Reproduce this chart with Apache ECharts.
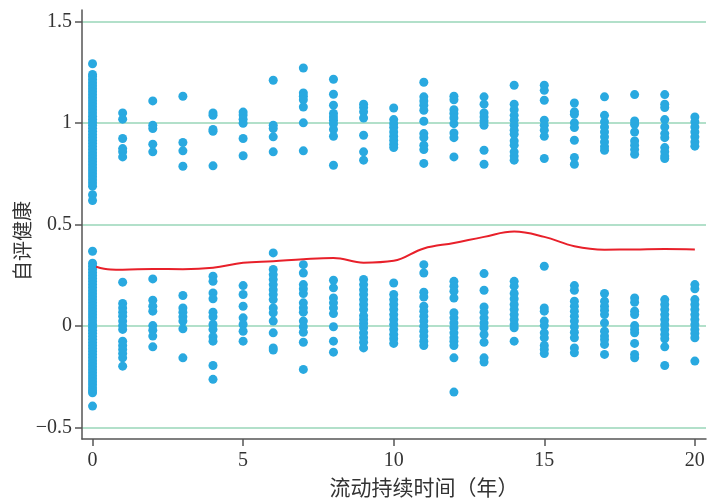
<!DOCTYPE html>
<html>
<head>
<meta charset="utf-8">
<script src="https://cdn.jsdelivr.net/npm/echarts@6/dist/echarts.min.js"></script>
<style>html,body{margin:0;padding:0;background:#fff}#c{width:708px;height:499px}</style>
</head>
<body>
<div id="c"></div>
<script>
const years = [0,1,2,3,4,5,6,7,8,9,10,11,12,13,14,15,16,17,18,19,20];
const upperValues = [
  [1.293,1.24,1.23,1.215,1.2,1.185,1.17,1.155,1.14,1.125,1.11,1.095,1.08,1.065,1.05,1.035,1.02,1.005,0.99,0.975,0.96,0.945,0.93,0.915,0.9,0.885,0.87,0.855,0.84,0.825,0.81,0.795,0.78,0.765,0.75,0.735,0.72,0.705,0.69,0.648,0.619],
  [1.051,1.02,0.925,0.875,0.859,0.834],
  [1.11,0.99,0.974,0.897,0.859],
  [1.133,0.905,0.864,0.788],
  [1.051,1.039,0.969,0.96,0.79],
  [1.055,1.04,1.02,1.0,0.925,0.84],
  [1.212,0.99,0.974,0.933,0.859],
  [1.272,1.149,1.133,1.116,1.08,1.002,0.864],
  [1.217,1.143,1.089,1.048,1.031,1.015,0.998,0.969,0.936,0.793],
  [1.094,1.077,1.056,1.026,0.941,0.859,0.818],
  [1.075,1.018,0.998,0.979,0.957,0.936,0.916,0.897,0.88],
  [1.202,1.13,1.11,1.089,1.064,1.01,0.949,0.929,0.892,0.87,0.802],
  [1.133,1.116,1.067,1.048,1.026,0.998,0.952,0.929,0.834],
  [1.13,1.094,1.051,1.031,1.011,0.99,0.867,0.798],
  [1.187,1.094,1.067,1.039,1.015,0.99,0.966,0.946,0.913,0.892,0.859,0.838,0.818],
  [1.187,1.162,1.113,1.015,0.99,0.966,0.936,0.826],
  [1.1,1.056,1.044,1.002,0.979,0.916,0.831,0.798],
  [1.13,1.039,1.007,0.982,0.957,0.933,0.908,0.884,0.867],
  [1.141,1.011,0.995,0.957,0.913,0.892,0.87,0.847],
  [1.141,1.094,1.077,1.018,0.982,0.949,0.929,0.88,0.859,0.838,0.826],
  [1.031,1.007,0.982,0.957,0.933,0.908,0.887]
];
const lowerValues = [
  [0.369,0.31,0.295,0.28,0.265,0.25,0.235,0.22,0.205,0.19,0.175,0.16,0.145,0.13,0.115,0.1,0.085,0.07,0.055,0.04,0.025,0.01,-0.005,-0.02,-0.035,-0.05,-0.065,-0.08,-0.095,-0.11,-0.125,-0.14,-0.155,-0.17,-0.185,-0.2,-0.215,-0.23,-0.245,-0.26,-0.275,-0.29,-0.305,-0.318,-0.328,-0.394],
  [0.217,0.112,0.09,0.069,0.049,0.025,0.003,-0.016,-0.074,-0.095,-0.115,-0.135,-0.156,-0.197],
  [0.233,0.128,0.098,0.074,0.003,-0.02,-0.049,-0.102],
  [0.151,0.09,0.069,0.046,0.025,-0.013,-0.156],
  [0.246,0.221,0.164,0.135,0.069,0.046,0.008,-0.016,-0.052,-0.074,-0.194,-0.262],
  [0.2,0.156,0.098,0.041,0.008,-0.025,-0.074],
  [0.361,0.279,0.254,0.23,0.205,0.18,0.156,0.131,0.09,0.066,0.025,-0.033,-0.107,-0.118],
  [0.303,0.262,0.205,0.184,0.161,0.115,0.09,0.069,0.025,-0.003,-0.03,-0.079,-0.213],
  [0.226,0.189,0.139,0.115,0.09,0.062,-0.003,-0.074,-0.128],
  [0.23,0.205,0.18,0.156,0.131,0.107,0.082,0.052,0.033,0.013,-0.008,-0.033,-0.057,-0.079,-0.107],
  [0.213,0.156,0.131,0.107,0.082,0.057,0.033,0.008,-0.016,-0.041,-0.062,-0.085],
  [0.303,0.262,0.167,0.144,0.098,0.074,0.049,0.025,0.0,-0.025,-0.049,-0.074,-0.095],
  [0.221,0.197,0.172,0.139,0.066,0.041,0.016,-0.008,-0.033,-0.057,-0.074,-0.095,-0.156,-0.325],
  [0.259,0.177,0.095,0.069,0.041,0.016,-0.008,-0.041,-0.079,-0.156,-0.177],
  [0.221,0.197,0.161,0.135,0.107,0.082,0.057,0.033,0.008,-0.008,-0.074],
  [0.295,0.09,0.074,0.025,0.003,-0.033,-0.057,-0.095,-0.115,-0.135],
  [0.2,0.177,0.123,0.098,0.074,0.049,0.025,-0.003,-0.03,-0.057,-0.107,-0.131],
  [0.161,0.123,0.098,0.079,0.057,0.016,-0.025,-0.049,-0.066,-0.09,-0.139],
  [0.139,0.118,0.074,0.057,0.003,-0.016,-0.033,-0.085,-0.139,-0.156],
  [0.131,0.107,0.082,0.057,0.033,0.008,-0.016,-0.041,-0.062,-0.102,-0.194],
  [0.205,0.184,0.131,0.107,0.082,0.057,0.033,0.008,-0.016,-0.036,-0.057,-0.172]
];
const trendX = [0.12,0.6,1,2,3,4,5,6,7,8,9,10,11,12,13,14,15,16,17,18,19,20];
const trendY = [0.293,0.279,0.278,0.282,0.281,0.288,0.312,0.32,0.33,0.336,0.313,0.322,0.383,0.41,0.44,0.466,0.44,0.394,0.377,0.378,0.38,0.378];
const xTicks = [0,5,10,15,20];
const yTicks = [-0.5,0,0.5,1,1.5];

const pts = [];
years.forEach((yr, i) => {
  upperValues[i].forEach(v => pts.push([yr, v]));
  lowerValues[i].forEach(v => pts.push([yr, v]));
});
const trend = trendX.map((x, i) => [x, trendY[i]]);

const chart = echarts.init(document.getElementById('c'), null, {renderer: 'canvas'});
const axisFont = {fontFamily: 'Liberation Serif', fontSize: 20, color: '#333'};
chart.setOption({
  animation: false,
  grid: {left: 82, right: 2, top: 10, bottom: 60, containLabel: false},
  xAxis: {
    type: 'value', min: -0.35, max: 20.37,
    axisLine: {show: true, onZero: false, lineStyle: {color: '#555', width: 1.5}},
    axisTick: {show: true, length: 7, customValues: xTicks, lineStyle: {color: '#555', width: 1.5}},
    axisLabel: Object.assign({customValues: xTicks, margin: 12, showMinLabel: true, showMaxLabel: true}, axisFont),
    splitLine: {show: false}
  },
  yAxis: {
    type: 'value', min: -0.556, max: 1.558,
    axisLine: {show: true, onZero: false, lineStyle: {color: '#555', width: 1.5}},
    axisTick: {show: true, length: 7, customValues: yTicks, lineStyle: {color: '#555', width: 1.5}},
    axisLabel: Object.assign({customValues: yTicks, margin: 10, formatter: v => String(v).replace('-', '\u2212')}, axisFont),
    splitLine: {show: true, lineStyle: {color: '#98d6b8', width: 1.5}}
  },
  graphic: [
    {type: 'text', rotation: Math.PI / 2,
     style: {text: '自评健康', font: '20px "Noto Sans CJK SC"', fill: '#333', textAlign: 'center', textVerticalAlign: 'middle'},
     position: [22, 241]},
    {type: 'text', style: {text: '流动持续时间（年）', font: '21px "Noto Sans CJK SC"', fill: '#333', textAlign: 'center', textVerticalAlign: 'middle'},
     position: [424, 487]}
  ],
  series: [
    {type: 'scatter', data: pts, symbolSize: 9, itemStyle: {color: '#29a9e0', opacity: 1}, z: 2},
    {type: 'line', data: trend, smooth: 0.4, showSymbol: false, symbol: 'none', lineStyle: {color: '#e8202a', width: 2}, z: 3}
  ]
});
</script>
</body>
</html>
